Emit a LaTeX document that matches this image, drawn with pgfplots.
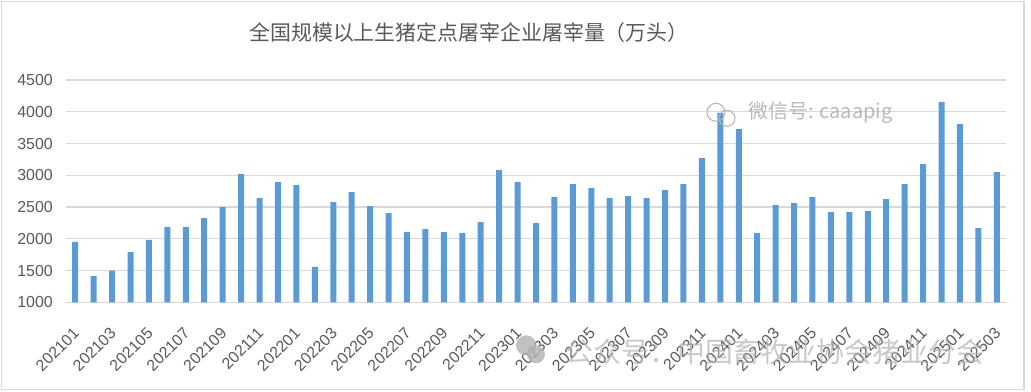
\documentclass[border=0pt]{standalone}
\usepackage{pgfplots}
\pgfplotsset{compat=1.18}
\usepackage{fontspec}
\setmainfont{Liberation Sans}
\newfontfamily\cjk{Noto Sans CJK SC}
\definecolor{barblue}{HTML}{5B9BD5}
\definecolor{gridgray}{HTML}{D9D9D9}
\definecolor{txtgray}{HTML}{595959}
\begin{document}
\begin{tikzpicture}[x=1bp,y=1bp]
\useasboundingbox (-66,-88.7) rectangle (965,302.3);
\draw[color=gridgray, line width=1.5bp] (-64.5,-87.2) rectangle (958,300.8);
\node[font=\cjk\fontsize{21}{24}\selectfont, text=txtgray] at (403,270) {全国规模以上生猪定点屠宰企业屠宰量（万头）};
\begin{axis}[at={(0,0)}, anchor=south west, scale only axis,
  width=940bp, height=222.3bp,
  xmin=0.5, xmax=51.5, ymin=1000, ymax=4500,
  ytick={1000,1500,...,4500},
  ymajorgrids, grid style={gridgray, line width=1.3bp},
  axis line style={draw=none},
  major tick length=0pt,
  xtick={1,3,...,51},
  xticklabels={202101,202103,202105,202107,202109,202111,202201,202203,202205,202207,202209,202211,202301,202303,202305,202307,202309,202311,202401,202403,202405,202407,202409,202411,202501,202503},
  tick label style={font=\fontsize{16}{18}\selectfont, text=txtgray},
  /pgf/number format/assume math mode=true,
  /pgf/number format/1000 sep={},
  yticklabel style={anchor=east, inner sep=0pt, xshift=-13bp},
  xticklabel style={xshift=-3bp, yshift=-24bp, rotate=45, anchor=north east, inner sep=0pt},
  ybar, bar width=6bp,
]
\addplot[fill=barblue, draw=none] coordinates {
(1,1950) (2,1414) (3,1497) (4,1792) (5,1981) (6,2185) (7,2185) (8,2327) (9,2500) (10,3019) (11,2642) (12,2893)
(13,2846) (14,1556) (15,2579) (16,2736) (17,2516) (18,2405) (19,2106) (20,2154) (21,2106) (22,2091) (23,2264) (24,3082)
(25,2893) (26,2248) (27,2657) (28,2862) (29,2799) (30,2642) (31,2673) (32,2642) (33,2768) (34,2862) (35,3271) (36,3984)
(37,3728) (38,2091) (39,2532) (40,2563) (41,2657) (42,2421) (43,2421) (44,2437) (45,2626) (46,2862) (47,3177) (48,4153)
(49,3806) (50,2169) (51,3051)
};
\end{axis}
\node[text=black!35, opacity=0.8, font=\cjk\fontsize{20}{24}\selectfont, anchor=west] at (679,189.3) {微信号: caaapig};
\draw[black!30, line width=1bp] (650,190) circle (9bp);
\draw[black!30, line width=1bp] (661,184) circle (8bp);
\fill[black!30, opacity=0.8] (460,-43) circle (10bp);
\fill[black!30, opacity=0.8] (470,-52) circle (9bp);
\node[text=black!30, opacity=0.7, font=\cjk\fontsize{28}{32}\selectfont, anchor=west] at (496,-49.7) {公众号：中国畜牧业协会猪业分会};
\end{tikzpicture}
\end{document}
